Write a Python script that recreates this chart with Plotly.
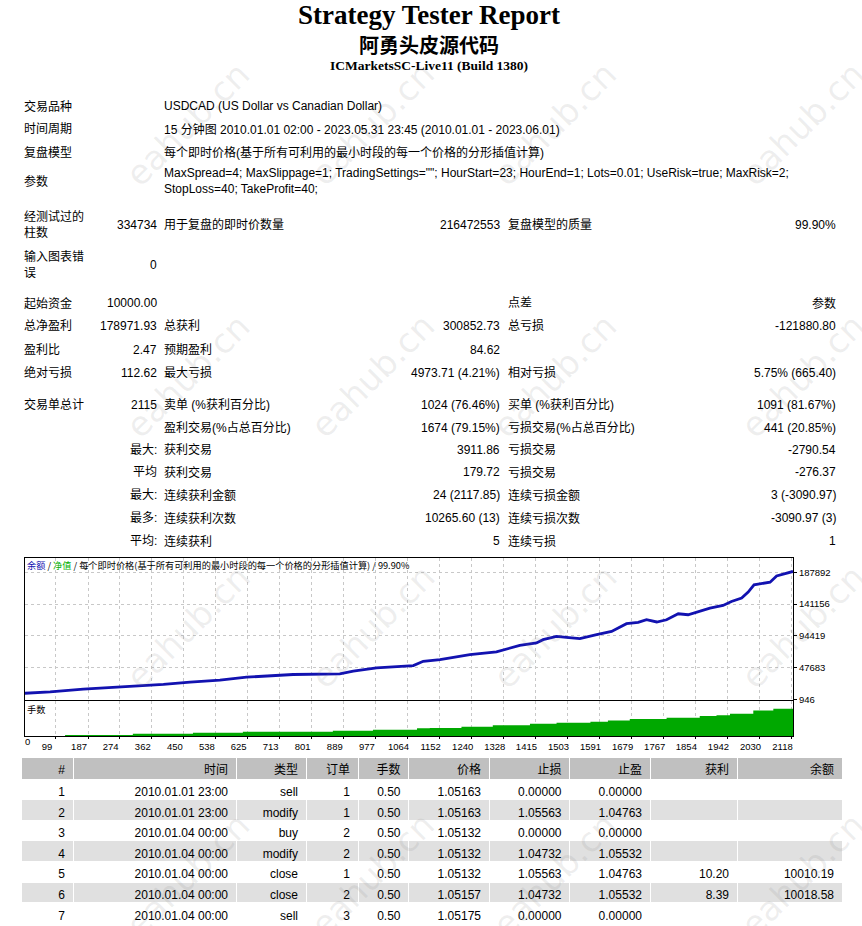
import plotly.graph_objects as go

W, H = 862, 926
BODY = "Liberation Sans, Noto Sans CJK SC, sans-serif"


def px(x):
    return x / W


def py(y):
    return 1 - y / H


# balance curve (trade number -> balance)
trade_idx = [0, 83, 174, 311, 394, 467, 549, 622, 750, 878,
             915, 979, 1034, 1080, 1107, 1125, 1153, 1235, 1308, 1372,
             1418, 1436, 1473, 1500, 1537, 1583, 1624, 1665, 1697, 1720,
             1748, 1775, 1807, 1834, 1857, 1894, 1930, 1953, 1981, 1999,
             2015, 2059, 2077, 2104, 2122]
balances = [10000, 12500, 16400, 20400, 23300, 26650, 29570, 33950, 37900, 38900,
            42700, 47700, 49600, 51000, 57300, 58300, 59800, 67100, 71000, 80700,
            84200, 89000, 93800, 92400, 90500, 96300, 101100, 112400, 114300, 118200,
            114900, 118200, 127000, 125500, 129500, 135300, 139100, 145000, 149900, 158700,
            169300, 173300, 182500, 186400, 188972]

# lot size (手数) panel
lot_idx = [0, 124, 310, 475, 612, 859, 969, 1090, 1125, 1212, 1298, 1400,
           1473, 1566, 1614, 1674, 1775, 1866, 1912, 1949, 2013, 2068, 2122]
lot_vals = [0.50, 0.80, 1.20, 1.50, 1.81, 2.11, 2.41, 2.84, 2.93, 3.33, 3.75, 4.24,
            4.54, 4.85, 5.27, 5.67, 6.06, 6.58, 6.88, 7.28, 8.31, 8.80, 9.41]

x_ticks = [99, 187, 274, 362, 450, 538, 625, 713, 801, 889, 977, 1064, 1152,
           1240, 1328, 1415, 1503, 1591, 1679, 1767, 1854, 1942, 2030, 2118]
y_ticks = [946, 47683, 94419, 141156, 187892]

# deals table
tbl_header = ["#", "时间", "类型", "订单", "手数", "价格", "止损", "止盈", "获利", "余额"]
deal_no = [1, 2, 3, 4, 5, 6, 7]
deal_time = ["2010.01.01 23:00", "2010.01.01 23:00", "2010.01.04 00:00", "2010.01.04 00:00",
             "2010.01.04 00:00", "2010.01.04 00:00", "2010.01.04 00:00"]
deal_type = ["sell", "modify", "buy", "modify", "close", "close", "sell"]
deal_order = [1, 1, 2, 2, 1, 2, 3]
deal_lots = ["0.50"] * 7
deal_price = ["1.05163", "1.05163", "1.05132", "1.05132", "1.05132", "1.05157", "1.05175"]
deal_sl = ["0.00000", "1.05563", "0.00000", "1.04732", "1.05563", "1.04732", "0.00000"]
deal_tp = ["0.00000", "1.04763", "0.00000", "1.05532", "1.04763", "1.05532", "0.00000"]
deal_profit = ["", "", "", "", "10.20", "8.39", ""]
deal_balance = ["", "", "", "", "10010.19", "10018.58", ""]

# report header lines
info_rows = [
    (107, "交易品种", "USDCAD (US Dollar vs Canadian Dollar)"),
    (130, "时间周期", "15 分钟图 2010.01.01 02:00 - 2023.05.31 23:45 (2010.01.01 - 2023.06.01)"),
    (153, "复盘模型", "每个即时价格(基于所有可利用的最小时段的每一个价格的分形插值计算)"),
    (182, "参数", 'MaxSpread=4; MaxSlippage=1; TradingSettings=""; HourStart=23; HourEnd=1; '
               'Lots=0.01; UseRisk=true; MaxRisk=2;<br>StopLoss=40; TakeProfit=40;'),
]

stat_rows = [
    (226, "经测试过的<br>柱数", "334734", "用于复盘的即时价数量", "216472553", "复盘模型的质量", "99.90%"),
    (266, "输入图表错<br>误", "0", "", "", "", ""),
    (305, "起始资金", "10000.00", "", "", "点差", "参数"),
    (328, "总净盈利", "178971.93", "总获利", "300852.73", "总亏损", "-121880.80"),
    (352, "盈利比", "2.47", "预期盈利", "84.62", "", ""),
    (375, "绝对亏损", "112.62", "最大亏损", "4973.71 (4.21%)", "相对亏损", "5.75% (665.40)"),
    (407, "交易单总计", "2115", "卖单 (%获利百分比)", "1024 (76.46%)", "买单 (%获利百分比)", "1091 (81.67%)"),
    (430, "", "", "盈利交易(%占总百分比)", "1674 (79.15%)", "亏损交易(%占总百分比)", "441 (20.85%)"),
    (452, "", "最大:", "获利交易", "3911.86", "亏损交易", "-2790.54"),
    (475, "", "平均", "获利交易", "179.72", "亏损交易", "-276.37"),
    (498, "", "最大:", "连续获利金额", "24 (2117.85)", "连续亏损金额", "3 (-3090.97)"),
    (521, "", "最多:", "连续获利次数", "10265.60 (13)", "连续亏损次数", "-3090.97 (3)"),
    (544, "", "平均:", "连续获利", "5", "连续亏损", "1"),
]

fig = go.Figure()

fig.add_trace(go.Scatter(x=trade_idx, y=balances, mode="lines",
                         line=dict(color="#1212b0", width=2.8),
                         xaxis="x", yaxis="y", showlegend=False, hoverinfo="skip"))
fig.add_trace(go.Scatter(x=lot_idx, y=lot_vals, mode="lines", line_shape="hv",
                         line=dict(color="#00a800", width=0), fill="tozeroy",
                         fillcolor="#00a800", xaxis="x2", yaxis="y2",
                         showlegend=False, hoverinfo="skip"))

n = len(deal_no)
row_fill = ["white" if i % 2 == 0 else "#e0e0e0" for i in range(n)]
fig.add_trace(go.Table(
    domain=dict(x=[px(21), px(842)], y=[0, py(761.5)]),
    columnwidth=[52, 163, 70, 52, 50.5, 80.5, 80.5, 80.5, 87, 105],
    header=dict(values=tbl_header, align="right", height=21.7,
                fill_color="#c0c0c0", line=dict(color="white", width=1),
                font=dict(family=BODY, size=12, color="black")),
    cells=dict(values=[deal_no, deal_time, deal_type, deal_order, deal_lots, deal_price,
                       deal_sl, deal_tp, deal_profit, deal_balance],
               align="right", height=20.6, fill_color=[row_fill] * 10,
               line=dict(color="white", width=1),
               font=dict(family=BODY, size=12, color="black")),
))

grid = dict(showgrid=True, gridcolor="#c8c8c8", griddash="3px,3px", gridwidth=1)
frame = dict(showline=True, mirror=True, linecolor="black", linewidth=1, zeroline=False)

fig.update_layout(
    width=W, height=H,
    margin=dict(l=0, r=0, t=0, b=0),
    paper_bgcolor="white", plot_bgcolor="white",
    xaxis=dict(domain=[px(25), px(793)], range=[14, 2122], tickvals=x_ticks,
               showticklabels=False, ticks="", anchor="y", **grid, **frame),
    yaxis=dict(domain=[py(703.5), py(561)], range=[946, 208775], tickvals=y_ticks,
               tickformat="d", side="right", ticks="outside", ticklen=3, tickcolor="black",
               tickfont=dict(family="Liberation Sans", size=9.5, color="black"),
               anchor="x", **grid, **frame),
    xaxis2=dict(domain=[px(25), px(793)], range=[14, 2122], tickvals=x_ticks,
                matches="x", anchor="y2", ticks="outside", ticklen=2, tickcolor="black",
                ticklabelshift=-9, ticklabelstandoff=0,
                tickfont=dict(family="Liberation Sans", size=9.5, color="black"),
                **grid, **frame),
    yaxis2=dict(domain=[py(740), py(705)], range=[0.5, 11.14], showticklabels=False,
                showgrid=False, ticks="", anchor="x2", **frame),
)

ann = []

# watermark
for wy in [125, 378, 630, 880]:
    for wx in [118, 372, 624, 872]:
        ann.append(dict(x=px(wx), y=py(wy), text="eahub.cn", textangle=-45,
                        font=dict(family="DejaVu Sans", size=34, color="rgba(120,120,120,0.13)")))

# titles
ann.append(dict(x=px(429), y=py(15), text="<b>Strategy Tester Report</b>",
                font=dict(family="Liberation Serif", size=27, color="black")))
ann.append(dict(x=px(429), y=py(45), text="<b>阿勇头皮源代码</b>",
                font=dict(family="Noto Sans CJK SC", size=20, color="black")))
ann.append(dict(x=px(429), y=py(66), text="<b>ICMarketsSC-Live11 (Build 1380)</b>",
                font=dict(family="Liberation Serif", size=13.5, color="black")))

for yy, lab, val in info_rows:
    ann.append(dict(x=px(24), y=py(yy), text=lab, xanchor="left", align="left",
                    font=dict(family=BODY, size=12, color="black")))
    ann.append(dict(x=px(164), y=py(yy), text=val, xanchor="left", align="left",
                    font=dict(family=BODY, size=12, color="black")))

for yy, l1, v1, l2, v2, l3, v3 in stat_rows:
    for xx, txt, anc in [(24, l1, "left"), (157, v1, "right"), (164, l2, "left"),
                         (500, v2, "right"), (508, l3, "left"), (836, v3, "right")]:
        if txt:
            ann.append(dict(x=px(xx), y=py(yy), text=txt, xanchor=anc, align=anc,
                            font=dict(family=BODY, size=12, color="black")))

# chart captions
ann.append(dict(x=px(27), y=py(568),
                text='<span style="color:#1212b0">余额</span> / <span style="color:#00b000">净值</span>'
                     ' / 每个即时价格(基于所有可利用的最小时段的每一个价格的分形插值计算) / 99.90%',
                xanchor="left", font=dict(family="Noto Sans CJK SC", size=9.2, color="black")))
ann.append(dict(x=px(27), y=py(713), text="手数", xanchor="left",
                font=dict(family="Noto Sans CJK SC", size=9.2, color="black")))
ann.append(dict(x=px(27), y=py(746), text="0", xanchor="center",
                font=dict(family="Liberation Sans", size=9.5, color="black")))

for a in ann:
    a.setdefault("xref", "paper")
    a.setdefault("yref", "paper")
    a.setdefault("showarrow", False)
    a.setdefault("yanchor", "middle")
    a.setdefault("borderpad", 0)
    a.setdefault("borderwidth", 0)
fig.update_layout(annotations=ann)

# the page has a default 8px body margin; drop it so the figure fills the window
fig.write_html("out.html", config={"displayModeBar": False},
               post_script="document.body.style.margin = '0';")
